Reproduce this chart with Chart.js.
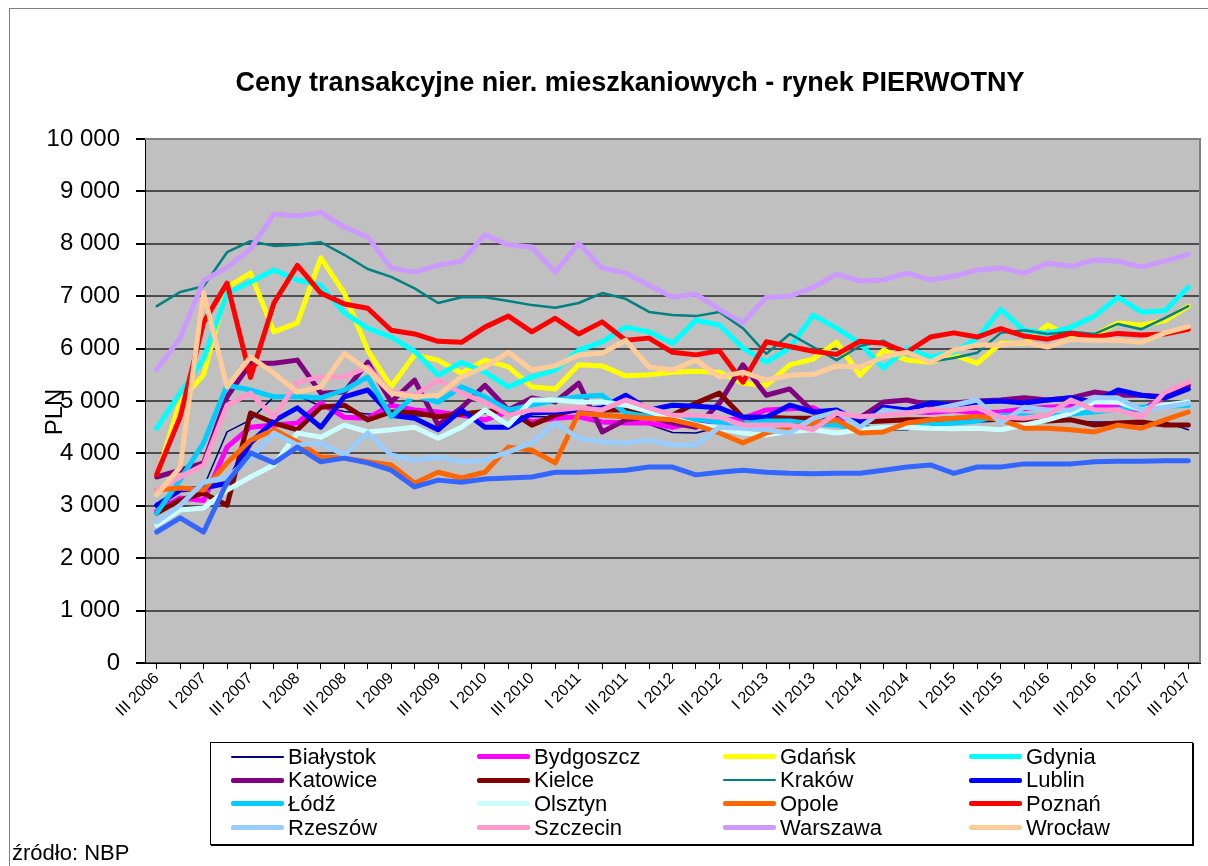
<!DOCTYPE html>
<html>
<head>
<meta charset="utf-8">
<script src="https://cdn.jsdelivr.net/npm/chart.js@4/dist/chart.umd.min.js"></script>
<style>
    body { margin: 0; background: #fff; font-family: "Liberation Sans", Arial, sans-serif; }
    #wrap { position: relative; width: 1208px; height: 866px; overflow: hidden; }
    #frame { position: absolute; left: 9px; top: 8px; width: 1220px; height: 900px;
             border-left: 1px solid #808080; border-top: 1px solid #808080; }
    canvas { position: absolute; left: 0; top: 0; }
    #legend { position: absolute; left: 210px; top: 742px; width: 983px; height: 103px;
              border: 1px solid #000; box-shadow: 1px 1px 0 #000; background: #fff;
              display: grid; grid-template-columns: repeat(4, 246px); grid-auto-rows: 23.6px;
              padding: 2px 0 0 20px; box-sizing: border-box; }
    .item { display: flex; align-items: center; font-size: 22px; color: #000; white-space: nowrap; }
    .swatch { display: inline-block; width: 53px; margin-right: 4px; border-radius: 2px; }
    #src { position: absolute; left: 12px; top: 840px; font-size: 22px; color: #000; }
</style>
</head>
<body>
<div id="wrap">
    <div id="frame"></div>
    <canvas id="chart" width="1208" height="866"></canvas>
    <div id="legend"></div>
    <div id="src">źródło: NBP</div>
</div>
<script>
// quarters III 2006 .. III 2017
const quarters = [
    "III 2006", "IV 2006",
    "I 2007", "II 2007", "III 2007", "IV 2007",
    "I 2008", "II 2008", "III 2008", "IV 2008",
    "I 2009", "II 2009", "III 2009", "IV 2009",
    "I 2010", "II 2010", "III 2010", "IV 2010",
    "I 2011", "II 2011", "III 2011", "IV 2011",
    "I 2012", "II 2012", "III 2012", "IV 2012",
    "I 2013", "II 2013", "III 2013", "IV 2013",
    "I 2014", "II 2014", "III 2014", "IV 2014",
    "I 2015", "II 2015", "III 2015", "IV 2015",
    "I 2016", "II 2016", "III 2016", "IV 2016",
    "I 2017", "II 2017", "III 2017"
];

const yTicks = [0, 1000, 2000, 3000, 4000, 5000, 6000, 7000, 8000, 9000, 10000];

const bialystok = [3050, 3110, 3360, 4410, 4640, 5080, 5100, 4900, 4800, 4750, 4750, 4720, 4700, 4750, 4780, 4750, 4700, 4700, 4680, 4620, 4600, 4550, 4400, 4390, 4500, 4600, 4650, 4650, 4650, 4700, 4550, 4450, 4450, 4550, 4600, 4600, 4620, 4650, 4650, 4620, 4600, 4600, 4550, 4600, 4450];
const bydgoszcz = [2900, 3150, 3100, 4120, 4500, 4540, 4580, 4960, 4690, 4670, 4920, 4830, 4790, 4730, 4640, 4790, 4600, 4670, 4700, 4600, 4580, 4580, 4500, 4600, 4620, 4670, 4830, 4850, 4870, 4640, 4700, 4880, 4800, 4780, 4820, 4780, 4790, 4850, 4880, 4900, 4900, 4880, 4830, 5080, 5300];
const gdansk = [3550, 5000, 5500, 7170, 7440, 6320, 6490, 7730, 7060, 5970, 5270, 5880, 5780, 5530, 5780, 5650, 5270, 5230, 5690, 5670, 5480, 5500, 5550, 5570, 5550, 5340, 5300, 5690, 5800, 6120, 5490, 5970, 5780, 5740, 5880, 5720, 6100, 6100, 6450, 6220, 6260, 6490, 6450, 6530, 6810];
const gdynia = [4480, 5150, 5800, 7060, 7270, 7500, 7310, 7210, 6680, 6390, 6220, 5950, 5490, 5740, 5550, 5270, 5460, 5590, 5970, 6130, 6410, 6320, 6100, 6540, 6450, 6010, 5740, 6010, 6640, 6390, 6100, 5630, 6010, 5840, 5930, 6200, 6750, 6350, 6290, 6410, 6620, 6980, 6700, 6720, 7170];
const katowice = [3550, 3680, 3820, 5080, 5720, 5720, 5780, 5150, 5170, 5740, 4980, 5400, 4540, 4870, 5300, 4830, 5060, 4980, 5340, 4410, 4640, 4700, 4580, 4500, 4960, 5690, 5110, 5230, 4790, 4770, 4680, 4980, 5020, 4920, 4960, 5000, 5020, 5060, 5020, 5060, 5170, 5110, 5110, 5080, 5300];
const kielce = [2860, 3110, 3240, 3010, 4770, 4580, 4450, 4880, 4920, 4640, 4790, 4780, 4700, 4750, 4800, 4830, 4540, 4730, 4850, 4830, 4830, 4800, 4730, 4960, 5150, 4690, 4690, 4670, 4670, 4770, 4600, 4620, 4640, 4640, 4660, 4660, 4650, 4640, 4620, 4640, 4540, 4580, 4600, 4540, 4540];
const krakow = [6810, 7080, 7190, 7840, 8050, 7960, 7980, 8030, 7790, 7520, 7370, 7150, 6870, 6980, 6980, 6910, 6830, 6780, 6870, 7060, 6950, 6700, 6640, 6620, 6700, 6390, 5900, 6280, 6030, 5780, 6050, 6150, 5900, 5750, 5820, 5920, 6300, 6350, 6280, 6320, 6280, 6470, 6370, 6580, 6810];
const lublin = [3010, 3300, 3340, 3430, 4200, 4620, 4870, 4500, 5080, 5210, 4730, 4670, 4450, 4830, 4500, 4500, 4770, 4790, 4830, 4870, 5110, 4830, 4920, 4900, 4870, 4690, 4690, 4920, 4790, 4830, 4600, 4880, 4830, 4960, 4920, 4980, 5000, 4960, 5020, 5060, 4980, 5210, 5110, 5060, 5230];
const lodz = [2860, 3500, 4200, 5300, 5210, 5080, 5080, 5060, 5210, 5460, 4700, 5110, 4980, 5270, 5080, 4830, 4920, 5020, 5080, 5110, 4770, 4700, 4650, 4650, 4600, 4560, 4620, 4620, 4560, 4540, 4450, 4500, 4500, 4550, 4580, 4620, 4730, 4720, 4700, 4750, 4790, 4840, 4880, 4900, 4920];
const olsztyn = [2630, 2920, 2960, 3300, 3550, 3780, 4390, 4310, 4540, 4410, 4450, 4500, 4290, 4500, 4830, 4540, 5020, 5020, 4980, 4980, 4920, 4800, 4670, 4550, 4480, 4390, 4350, 4420, 4450, 4390, 4450, 4500, 4500, 4480, 4470, 4480, 4450, 4540, 4640, 4770, 4980, 4980, 4830, 4920, 4980];
const opole = [3300, 3340, 3300, 3820, 4250, 4450, 4220, 3930, 3910, 3840, 3780, 3430, 3640, 3530, 3640, 4120, 4060, 3820, 4770, 4730, 4700, 4670, 4640, 4540, 4390, 4200, 4390, 4500, 4580, 4640, 4390, 4410, 4580, 4640, 4670, 4710, 4640, 4480, 4480, 4450, 4410, 4540, 4480, 4640, 4790];
const poznan = [3600, 4700, 6500, 7250, 5450, 6870, 7590, 7060, 6850, 6770, 6350, 6280, 6140, 6120, 6410, 6620, 6320, 6580, 6280, 6510, 6160, 6200, 5930, 5880, 5960, 5360, 6130, 6040, 5950, 5890, 6140, 6100, 5930, 6220, 6300, 6220, 6380, 6240, 6180, 6290, 6220, 6290, 6260, 6280, 6370];
const rzeszow = [2690, 3010, 3450, 3550, 3900, 4390, 4160, 4200, 3970, 4390, 3970, 3870, 3930, 3840, 3870, 4030, 4200, 4580, 4290, 4220, 4200, 4250, 4160, 4160, 4500, 4480, 4450, 4390, 4670, 4790, 4500, 4830, 4770, 4830, 4920, 5020, 4580, 4880, 4830, 4830, 5060, 5060, 4830, 4880, 4960];
const szczecin = [3300, 3550, 3780, 4920, 5150, 4690, 5360, 5460, 5460, 5650, 5170, 5110, 5400, 5150, 4980, 4730, 4830, 4830, 4870, 4830, 5020, 4870, 4730, 4730, 4690, 4540, 4540, 4540, 4450, 4770, 4700, 4730, 4770, 4830, 4830, 4870, 4690, 4670, 4730, 5020, 4830, 4830, 4690, 5170, 5360];
const warszawa = [5600, 6200, 7300, 7550, 7900, 8570, 8530, 8600, 8320, 8130, 7540, 7460, 7590, 7670, 8170, 7980, 7940, 7460, 8010, 7540, 7440, 7210, 6980, 7040, 6750, 6490, 6980, 7000, 7170, 7420, 7290, 7310, 7440, 7310, 7380, 7500, 7540, 7440, 7630, 7570, 7690, 7670, 7560, 7670, 7800];
const wroclaw = [3210, 3740, 7060, 5270, 5840, 5530, 5170, 5270, 5910, 5590, 5150, 5080, 5110, 5460, 5650, 5930, 5590, 5670, 5880, 5910, 6160, 5650, 5590, 5780, 5460, 5550, 5400, 5490, 5510, 5670, 5650, 5840, 5930, 5740, 5970, 6070, 6070, 6120, 6030, 6180, 6160, 6160, 6120, 6300, 6420];
// series drawn in the chart but not listed in the legend
const seria17 = [2500, 2770, 2500, 3450, 4010, 3820, 4120, 3840, 3910, 3820, 3680, 3360, 3490, 3450, 3510, 3530, 3550, 3640, 3640, 3660, 3680, 3740, 3740, 3590, 3640, 3680, 3640, 3620, 3610, 3620, 3620, 3680, 3740, 3780, 3620, 3740, 3740, 3800, 3800, 3800, 3840, 3850, 3850, 3860, 3860];

const cities = ["Białystok", "Bydgoszcz", "Gdańsk", "Gdynia", "Katowice", "Kielce", "Kraków", "Lublin",
                "Łódź", "Olsztyn", "Opole", "Poznań", "Rzeszów", "Szczecin", "Warszawa", "Wrocław", ""];
const values = [bialystok, bydgoszcz, gdansk, gdynia, katowice, kielce, krakow, lublin,
                lodz, olsztyn, opole, poznan, rzeszow, szczecin, warszawa, wroclaw, seria17];
const colors = ["#000080", "#FF00FF", "#FFFF00", "#00FFFF", "#800080", "#800000", "#008080", "#0000FF",
                "#00CCFF", "#CCFFFF", "#FF6600", "#FF0000", "#99CCFF", "#FF99CC", "#CC99FF", "#FFCC99", "#3366FF"];
const widths = [1.5, 5, 5, 5, 5, 5, 2.5, 5, 5, 5, 5, 5, 5, 5, 5, 5, 5];

const FONT = "'Liberation Sans', Arial, sans-serif";

const datasets = values.map((v, i) => ({
    label: cities[i],
    data: v,
    borderColor: colors[i],
    backgroundColor: colors[i],
    borderWidth: widths[i],
    pointRadius: 0,
    tension: 0,
    borderJoinStyle: "round",
    borderCapStyle: "round",
    order: values.length - i   // later series on top, like the original
}));

const plotArea = {
    id: "plotArea",
    beforeDraw(chart) {
        const a = chart.chartArea;
        const ctx = chart.ctx;
        ctx.save();
        ctx.fillStyle = "#C0C0C0";
        ctx.fillRect(a.left, a.top, a.right - a.left, a.bottom - a.top);
        ctx.restore();
    },
    afterDraw(chart) {
        const a = chart.chartArea;
        const ctx = chart.ctx;
        ctx.save();
        ctx.strokeStyle = "#808080";
        ctx.lineWidth = 2;
        ctx.beginPath();
        ctx.moveTo(a.left, a.top);
        ctx.lineTo(a.right, a.top);
        ctx.lineTo(a.right, a.bottom);
        ctx.stroke();
        // axis title
        ctx.translate(55, 412);
        ctx.rotate(-Math.PI / 2);
        ctx.fillStyle = "#000";
        ctx.font = "24px " + FONT;
        ctx.textAlign = "center";
        ctx.textBaseline = "middle";
        ctx.fillText("PLN", 0, 0);
        ctx.restore();
    }
};

new Chart(document.getElementById("chart"), {
    type: "line",
    data: { labels: quarters, datasets: datasets },
    options: {
        responsive: false,
        animation: false,
        devicePixelRatio: 1,
        layout: { padding: { left: 60, right: 8, top: 0, bottom: 0 } },
        plugins: {
            legend: { display: false },
            tooltip: { enabled: false },
            title: {
                display: true,
                text: "Ceny transakcyjne nier. mieszkaniowych - rynek PIERWOTNY",
                color: "#000",
                font: { family: FONT, size: 27, weight: "bold" },
                padding: { top: 67, bottom: 39.6 }
            }
        },
        scales: {
            x: {
                offset: true,
                afterFit(scale) { scale.height = 203; },
                grid: { drawOnChartArea: false, drawTicks: true, tickLength: 6, color: "#000" },
                border: { color: "#000", width: 1 },
                ticks: {
                    autoSkip: false,
                    maxRotation: 45,
                    minRotation: 45,
                    padding: 0,
                    color: "#000",
                    font: { family: FONT, size: 16 },
                    callback: (v, i) => (i % 2 === 0 ? quarters[i] : "")
                }
            },
            y: {
                min: yTicks[0],
                max: yTicks[yTicks.length - 1],
                afterFit(scale) {
                    scale.width = 85;
                    // the labels are wider than the axis box; do not clip them
                    scale._computeLabelArea = () => null;
                },
                afterBuildTicks(scale) { scale.ticks = yTicks.map(v => ({ value: v })); },
                grid: { color: "#4d4d4d", lineWidth: 2, tickLength: 9, tickColor: "#000" },
                border: { color: "#000", width: 1 },
                ticks: {
                    padding: 16,
                    color: "#000",
                    font: { family: FONT, size: 24 },
                    callback: v => String(v).replace(/\B(?=(\d{3})+(?!\d))/g, " ")
                }
            }
        }
    },
    plugins: [plotArea]
});

// legend: 4 columns, the same order as the original
const legend = document.getElementById("legend");
cities.forEach((name, i) => {
    if (!name) return;
    const item = document.createElement("div");
    item.className = "item";
    const sw = document.createElement("span");
    sw.className = "swatch";
    sw.style.height = (widths[i] < 3 ? 2 : 5) + "px";
    sw.style.background = colors[i];
    item.appendChild(sw);
    item.appendChild(document.createTextNode(name));
    legend.appendChild(item);
});
</script>
</body>
</html>
